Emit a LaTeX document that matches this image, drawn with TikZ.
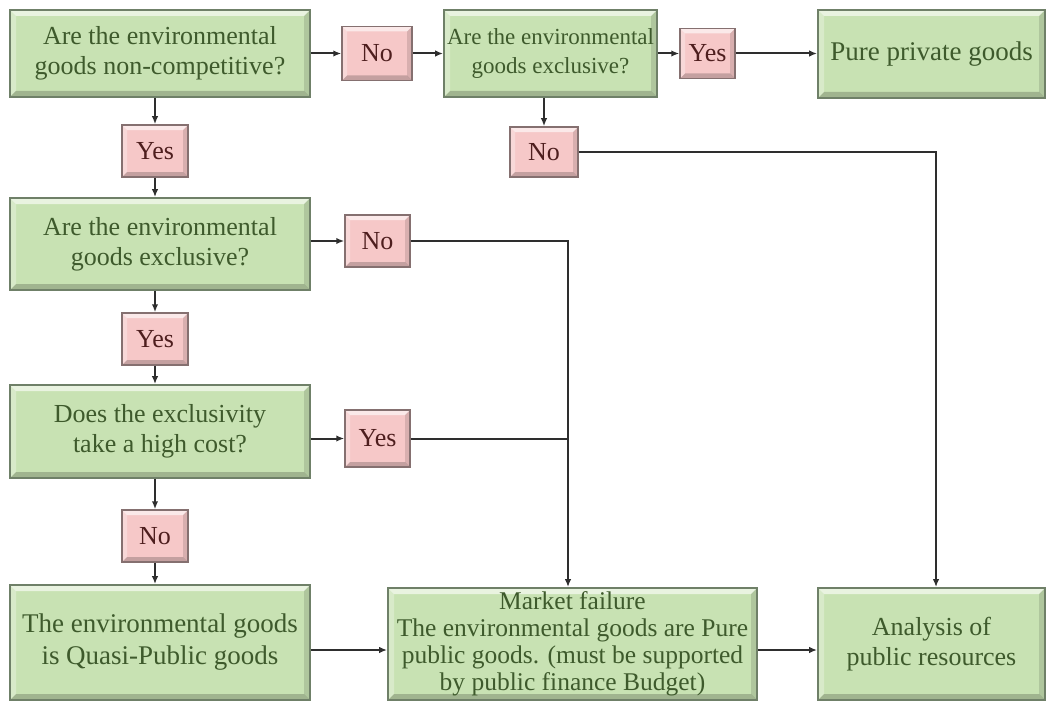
\documentclass[tikz,border=0pt]{standalone}
\usepackage{fontspec}
\setmainfont{Liberation Serif}
\usetikzlibrary{arrows.meta,calc}

\definecolor{gfill}{HTML}{C8E2B3}
\definecolor{gedge}{HTML}{6F8068}
\definecolor{gtext}{HTML}{3E5A2C}
\definecolor{pfill}{HTML}{F6C8C8}
\definecolor{pedge}{HTML}{857070}
\definecolor{ptext}{HTML}{4E1E1E}
\definecolor{wire}{HTML}{2E2E2E}

% bevelled panel: light top/left edges, shaded bottom/right edges
\tikzset{
  bevel/.style={path picture={
    \coordinate (bNW) at (path picture bounding box.north west);
    \coordinate (bNE) at (path picture bounding box.north east);
    \coordinate (bSW) at (path picture bounding box.south west);
    \coordinate (bSE) at (path picture bounding box.south east);
    \fill[white,opacity=.6] (bNW) -- (bNE) -- ($(bNE)+(-#1,#1)$) -- ($(bNW)+(#1,#1)$) -- cycle;
    \fill[white,opacity=.3] (bNW) -- ($(bNW)+(#1,#1)$) -- ($(bSW)+(#1,-#1)$) -- (bSW) -- cycle;
    \fill[black,opacity=.2] (bSW) -- (bSE) -- ($(bSE)+(-#1,-#1)$) -- ($(bSW)+(#1,-#1)$) -- cycle;
    \fill[black,opacity=.12] (bNE) -- (bSE) -- ($(bSE)+(-#1,-#1)$) -- ($(bNE)+(-#1,#1)$) -- cycle;
  }},
  gbox/.style={draw=gedge, line width=1.8pt, fill=gfill, text=gtext, align=center,
    inner sep=0pt, bevel=6, font=\fontsize{26}{30}\selectfont},
  pbox/.style={draw=pedge, line width=1.5pt, fill=pfill, text=ptext, align=center,
    inner sep=0pt, bevel=5, font=\fontsize{26}{30}\selectfont},
  link/.style={draw=wire, line width=2pt},
  arr/.style={link, -{Latex[length=8pt,width=6.5pt]}},
}

\begin{document}
\begin{tikzpicture}[x=1pt,y=-1pt]
\useasboundingbox (0,0) rectangle (1051,706);

% question boxes and outcomes
\node[gbox, minimum width=300, minimum height=87] (A) at (160,53.5)
  {Are the environmental\\goods non-competitive?};
\node[gbox, minimum width=213, minimum height=87,
  font=\fontsize{23}{29}\selectfont] (B) at (550.5,53.5)
  {Are the environmental\\goods exclusive?};
\node[gbox, minimum width=227, minimum height=88,
  font=\fontsize{27}{30}\selectfont] (C) at (931.5,54)
  {Pure private goods};
\node[gbox, minimum width=300, minimum height=92] (D) at (160,244)
  {Are the environmental\\goods exclusive?};
\node[gbox, minimum width=300, minimum height=93] (E) at (160,431.5)
  {Does the exclusivity\\take a high cost?};
\node[gbox, minimum width=300, minimum height=115,
  font=\fontsize{27}{32}\selectfont] (F) at (160,642.5)
  {The environmental goods\\is Quasi-Public goods};
\node[gbox, minimum width=369, minimum height=112,
  font=\fontsize{25.5}{27}\selectfont] (G) at (572.5,644)
  {Market failure\\The environmental goods are Pure\\public goods. (must be supported\\by public finance Budget)};
\node[gbox, minimum width=227, minimum height=112] (H) at (931.5,644)
  {Analysis of\\public resources};

% answer tags
\node[pbox, minimum width=70, minimum height=54] (no1) at (377,53.5) {No};
\node[pbox, minimum width=55, minimum height=50] (yes2) at (707.5,53.5) {Yes};
\node[pbox, minimum width=66, minimum height=52] (yes1) at (155,151) {Yes};
\node[pbox, minimum width=68, minimum height=50] (no3) at (544,152) {No};
\node[pbox, minimum width=65, minimum height=52] (no4) at (377.5,241) {No};
\node[pbox, minimum width=66, minimum height=52] (yes5) at (155,339) {Yes};
\node[pbox, minimum width=65, minimum height=57] (yes6) at (377.5,438.5) {Yes};
\node[pbox, minimum width=66, minimum height=52] (no7) at (155,536) {No};

% entry points of the long vertical runs
\coordinate (mfin) at ([xshift=-4.5pt]G.north);
\coordinate (anin) at ([xshift=4.5pt]H.north);

% top row
\draw[arr] (A.east |- no1) -- (no1.west);
\draw[arr] (no1.east) -- (B.west |- no1);
\draw[arr] (B.east |- yes2) -- (yes2.west);
\draw[arr] (yes2.east) -- (C.west |- yes2);
\draw[arr] (B.south -| no3) -- (no3.north);
\draw[arr] (no3.east) -| (anin);

% left column
\draw[arr] (A.south -| yes1) -- (yes1.north);
\draw[arr] (yes1.south) -- (D.north -| yes1);
\draw[arr] (D.south -| yes5) -- (yes5.north);
\draw[arr] (yes5.south) -- (E.north -| yes5);
\draw[arr] (E.south -| no7) -- (no7.north);
\draw[arr] (no7.south) -- (F.north -| no7);

% branches into market failure
\draw[arr] (D.east |- no4) -- (no4.west);
\draw[arr] (E.east |- yes6) -- (yes6.west);
\draw[arr] (no4.east) -| (mfin);
\draw[link] (yes6.east) -- (yes6.east -| mfin);

% bottom row
\draw[arr] (F.east |- 0,650) -- (G.west |- 0,650);
\draw[arr] (G.east |- 0,650) -- (H.west |- 0,650);
\end{tikzpicture}
\end{document}
